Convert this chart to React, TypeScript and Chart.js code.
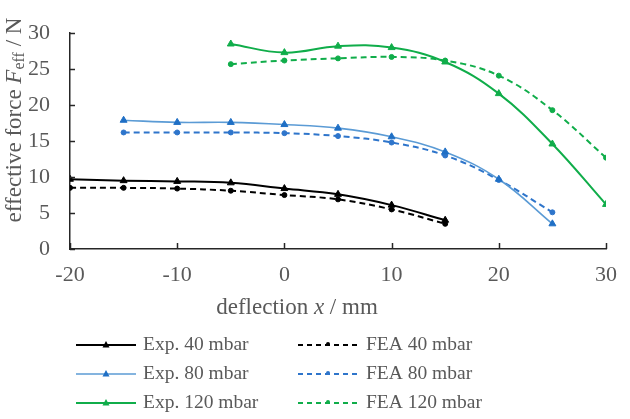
import React, { useEffect, useRef } from "react";
import { Chart, registerables } from "chart.js";

Chart.register(...registerables);

const xs40 = [-20, -15, -10, -5, 0, 5, 10, 15];
const exp40 = [9.7, 9.5, 9.4, 9.2, 8.4, 7.6, 6.1, 4.0];
const fea40 = [8.5, 8.5, 8.4, 8.1, 7.5, 6.9, 5.5, 3.5];
const xs80 = [-15, -10, -5, 0, 5, 10, 15, 20, 25];
const exp80 = [17.9, 17.6, 17.6, 17.3, 16.8, 15.6, 13.5, 9.7, 3.5];
const fea80 = [16.2, 16.2, 16.2, 16.1, 15.7, 14.8, 13.0, 9.6, 5.1];
const xs120 = [-5, 0, 5, 10, 15, 20, 25, 30];
const exp120 = [28.5, 27.3, 28.2, 28.0, 26.0, 21.6, 14.6, 6.2];
const fea120 = [25.7, 26.2, 26.5, 26.7, 26.2, 24.1, 19.3, 12.7];
const legendLabels = ["Exp. 40 mbar", "FEA 40 mbar", "Exp. 80 mbar", "FEA 80 mbar", "Exp. 120 mbar", "FEA 120 mbar"];

const SERIF = '"Liberation Serif", "Times New Roman", serif';
const TEXT = "#595959";
const AXIS = "#262626";

const pts = (xs: number[], ys: number[]) => xs.map((x, i) => ({ x, y: ys[i] }));

const styles = [
  { line: "#000000", point: "#000000", dash: [] as number[], style: "triangle", r: 4, w: 2 },
  { line: "#000000", point: "#000000", dash: [6, 4], style: "circle", r: 2.5, w: 2 },
  { line: "#5B9BD5", point: "#1F6FC5", dash: [] as number[], style: "triangle", r: 4, w: 1.6 },
  { line: "#2E75CB", point: "#2E75CB", dash: [6, 4], style: "circle", r: 2.5, w: 2 },
  { line: "#10AD4A", point: "#10AD4A", dash: [] as number[], style: "triangle", r: 4, w: 2 },
  { line: "#10AD4A", point: "#10AD4A", dash: [6, 4], style: "circle", r: 2.5, w: 2 },
];

const series = [
  pts(xs40, exp40),
  pts(xs40, fea40),
  pts(xs80, exp80),
  pts(xs80, fea80),
  pts(xs120, exp120),
  pts(xs120, fea120),
];

function drawRich(ctx: CanvasRenderingContext2D, parts: { t: string; f: string; dy?: number }[], cx: number, cy: number) {
  let total = 0;
  for (const p of parts) {
    ctx.font = p.f;
    total += ctx.measureText(p.t).width;
  }
  let x = cx - total / 2;
  ctx.textBaseline = "middle";
  ctx.textAlign = "left";
  for (const p of parts) {
    ctx.font = p.f;
    ctx.fillText(p.t, x, cy + (p.dy || 0));
    x += ctx.measureText(p.t).width;
  }
}

const customPlugin = {
  id: "custom",
  afterDraw(chart: any) {
    const ctx: CanvasRenderingContext2D = chart.ctx;
    const xS = chart.scales.x;
    const yS = chart.scales.y;
    const area = chart.chartArea;
    ctx.save();
    // inward ticks
    ctx.strokeStyle = AXIS;
    ctx.lineWidth = 1.5;
    for (let v = 0; v <= 30; v += 5) {
      const py = Math.round(yS.getPixelForValue(v)) + 0.5;
      ctx.beginPath();
      ctx.moveTo(area.left, py);
      ctx.lineTo(area.left + 5, py);
      ctx.stroke();
    }
    for (let v = -20; v <= 30; v += 10) {
      const px = Math.round(xS.getPixelForValue(v)) + 0.5;
      ctx.beginPath();
      ctx.moveTo(px, area.bottom);
      ctx.lineTo(px, area.bottom - 6);
      ctx.stroke();
    }
    // axis titles
    ctx.fillStyle = TEXT;
    const n = `23px ${SERIF}`;
    const it = `italic 23px ${SERIF}`;
    const sub = `16px ${SERIF}`;
    drawRich(ctx, [
      { t: "deflection ", f: n },
      { t: "x", f: it },
      { t: " / mm", f: n },
    ], 297, 308);
    ctx.save();
    ctx.translate(15, 120);
    ctx.rotate(-Math.PI / 2);
    drawRich(ctx, [
      { t: "effective force ", f: n },
      { t: "F", f: it },
      { t: "eff", f: sub, dy: 5 },
      { t: " / N", f: n },
    ], 0, 0);
    ctx.restore();
    // legend
    const rows = [345, 374, 403];
    const cols = [{ x0: 76, x1: 136, tx: 143 }, { x0: 298, x1: 358, tx: 366 }];
    for (let i = 0; i < 6; i++) {
      const s = styles[i];
      const c = cols[i % 2];
      const y = rows[Math.floor(i / 2)];
      ctx.strokeStyle = s.line;
      ctx.lineWidth = s.w;
      ctx.setLineDash(s.dash.length ? [5, 4] : []);
      ctx.beginPath();
      ctx.moveTo(c.x0, y);
      ctx.lineTo(c.x1, y);
      ctx.stroke();
      ctx.setLineDash([]);
      ctx.fillStyle = s.point;
      const mx = (c.x0 + c.x1) / 2;
      if (s.style === "triangle") {
        ctx.beginPath();
        ctx.moveTo(mx, y - 4);
        ctx.lineTo(mx + 3.5, y + 2.5);
        ctx.lineTo(mx - 3.5, y + 2.5);
        ctx.closePath();
        ctx.fill();
      } else {
        ctx.beginPath();
        ctx.arc(mx, y - 1, 2, 0, Math.PI * 2);
        ctx.fill();
      }
      ctx.fillStyle = TEXT;
      ctx.font = `19.5px ${SERIF}`;
      ctx.textAlign = "left";
      ctx.textBaseline = "middle";
      ctx.fillText(legendLabels[i], c.tx, y);
    }
    ctx.restore();
  },
};

export default function App() {
  const ref = useRef<HTMLCanvasElement | null>(null);
  useEffect(() => {
    if (!ref.current) return;
    const chart = new Chart(ref.current, {
      type: "line",
      data: {
        datasets: series.map((d, i) => ({
          label: legendLabels[i],
          data: d,
          borderColor: styles[i].line,
          backgroundColor: styles[i].point,
          pointBackgroundColor: styles[i].point,
          pointBorderColor: styles[i].point,
          pointStyle: styles[i].style as any,
          pointRadius: styles[i].r,
          pointBorderWidth: 1,
          borderWidth: styles[i].w,
          borderDash: styles[i].dash,
          tension: 0.4,
          fill: false,
        })),
      },
      plugins: [customPlugin],
      options: {
        animation: false,
        responsive: false,
        maintainAspectRatio: false,
        layout: { padding: { left: 0, right: 17, top: 12, bottom: 0 } },
        plugins: { legend: { display: false }, tooltip: { enabled: false } },
        scales: {
          x: {
            type: "linear",
            min: -20,
            max: 30,
            afterFit: (s: any) => { s.height = 170; },
            grid: { display: false, drawTicks: false },
            border: { display: true, color: AXIS, width: 1.5 },
            ticks: { stepSize: 10, padding: 13, color: TEXT, font: { family: SERIF, size: 22 } },
          },
          y: {
            min: 0,
            max: 30,
            afterFit: (s: any) => { s.width = 70; },
            grid: { display: false, drawTicks: false },
            border: { display: true, color: AXIS, width: 1.5 },
            ticks: { stepSize: 5, padding: 20, color: TEXT, font: { family: SERIF, size: 22 } },
          },
        },
      },
    } as any);
    return () => chart.destroy();
  }, []);
  return (
    <div style={{ position: "absolute", left: 0, top: 0, width: 630, height: 419, background: "#fff" }}>
      <canvas ref={ref} width={630} height={419} style={{ display: "block" }} />
    </div>
  );
}
